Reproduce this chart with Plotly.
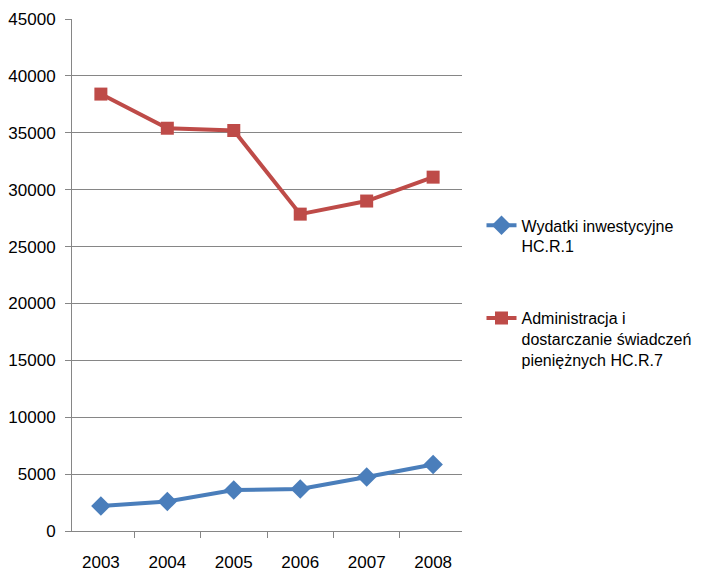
import plotly.graph_objects as go

years = ["2003", "2004", "2005", "2006", "2007", "2008"]
wydatki = [2200, 2600, 3600, 3700, 4750, 5850]
administracja = [38400, 35400, 35200, 27850, 29000, 31100]
y_ticks = [0, 5000, 10000, 15000, 20000, 25000, 30000, 35000, 40000, 45000]

name_blue = "Wydatki inwestycyjne<br>HC.R.1"
name_red = "Administracja i<br>dostarczanie świadczeń<br>pieniężnych HC.R.7"

font_name = "Liberation Sans, Arial, sans-serif"

fig = go.Figure()
fig.add_trace(go.Scatter(
    x=years, y=wydatki, name=name_blue, mode="lines+markers",
    line=dict(color="#4A7EBB", width=4),
    marker=dict(symbol="diamond", size=15, color="#4A7EBB"),
    legendgroup="a",
))
fig.add_trace(go.Scatter(
    x=years, y=administracja, name=name_red, mode="lines+markers",
    line=dict(color="#BE4B48", width=4),
    marker=dict(symbol="square", size=13, color="#BE4B48"),
    legendgroup="b",
))

# page body has an 8px margin, so the figure is a bit smaller and shifted
fig.update_layout(
    width=697, height=566,
    margin=dict(l=64, r=243, t=11, b=43, autoexpand=False),
    paper_bgcolor="white", plot_bgcolor="white",
    font=dict(family=font_name, size=17, color="#000000"),
    showlegend=True,
    legend=dict(
        x=1.05, y=0.63, xanchor="left", yanchor="top",
        valign="top", tracegroupgap=48,
        font=dict(size=16),
        itemwidth=30,
    ),
)
fig.update_xaxes(
    type="category", showgrid=False, tickson="boundaries",
    ticks="outside", ticklen=6, tickcolor="#868686",
    showline=True, linecolor="#868686", linewidth=1,
    ticklabelstandoff=16, automargin=False,
)
fig.update_yaxes(
    range=[0, 45000], tickvals=y_ticks, ticktext=[str(v) for v in y_ticks],
    showgrid=True, gridcolor="#868686", gridwidth=1,
    ticks="outside", ticklen=6, tickcolor="#868686",
    showline=True, linecolor="#868686", linewidth=1,
    zeroline=False, ticklabelstandoff=6, automargin=False,
)

fig.write_html("out.html")
